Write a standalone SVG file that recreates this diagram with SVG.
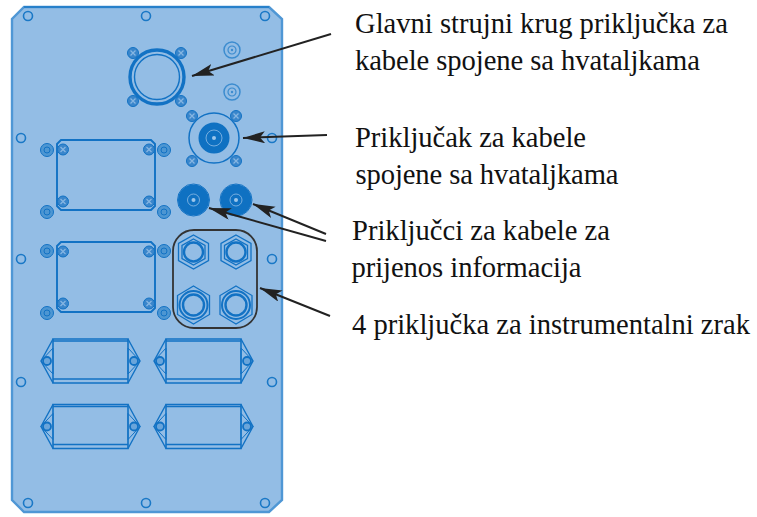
<svg xmlns="http://www.w3.org/2000/svg" width="757" height="517" viewBox="0 0 757 517">
<style>
.t{font-family:"Liberation Serif",serif;font-size:28.6px;fill:#111}
.s{fill:none;stroke:#1272c4;stroke-width:1.3}
.d{fill:#0f71c2}
.a{stroke:#222;stroke-width:2;fill:none}
.h{fill:#222}
</style>
<defs>
<g id="hole"><circle r="4.5" fill="none" stroke="#1a78c6" stroke-width="1.6"/></g>
<g id="scr"><circle r="5.5" fill="#3a86cb" stroke="#1272c4"/><path d="M-2.5-2.5L2.5 2.5M-2.5 2.5L2.5-2.5" stroke="#86b6e2" stroke-width="1.3"/></g>
<g id="wash"><circle r="6.5" fill="#4d96d2" stroke="#1272c4"/><circle r="3" fill="none" stroke="#1272c4"/></g>
<g id="pale"><circle r="8" fill="none" stroke="#3c8ccf" stroke-width="1.5"/><circle r="4" fill="none" stroke="#3c8ccf" stroke-width="1.2"/><circle r="1.2" fill="#3c8ccf"/></g>
<g id="cab"><path class="s" d="M-47-22H28V22H-47Z" style="stroke-width:1.6"/><path class="s" d="M-47-22L-59 0L-47 22M-47-20H28M-47 18H28M28-22L40 0L28 22" style="stroke-width:1.4"/><path class="s" d="M-59 0L-47-13V13ZM40 0L28-13V13Z" style="stroke-width:1"/><circle cx="-53" cy="0" r="4" fill="#6aa5da" stroke="#1272c4" stroke-width="1.8"/><circle cx="34" cy="0" r="4" fill="#6aa5da" stroke="#1272c4" stroke-width="1.8"/></g>
<g id="plate"><path class="s" style="stroke-width:1.9" d="M-45-35H45L49-31V31L45 35H-45L-49 31V-31Z"/><use href="#scr" x="-43" y="-25.500"/><use href="#scr" x="43" y="-25.500"/><use href="#scr" x="-43" y="26.500"/><use href="#scr" x="43" y="26.500"/></g>
<g id="nut1"><path class="s" d="M0-17L15-8.500V8.500L0 17L-15 8.500V-8.500Z"/><path class="s" d="M0-13L11.500-6.500V6.500L0 13L-11.500 6.500V-6.500Z"/><circle r="9.500" fill="none" stroke="#1272c4" stroke-width="2.4"/></g>
<g id="nut2"><path class="s" d="M0-19L16-9.500V9.500L0 19L-16 9.500V-9.500Z"/><circle r="14" fill="none" stroke="#1272c4" stroke-width="2"/><circle r="10.500" fill="none" stroke="#1272c4" stroke-width="2.400"/></g>
<g id="blue"><circle r="15.500" class="d"/><circle r="16" fill="none" stroke="#1272c4" stroke-width="1"/><circle r="6" fill="none" stroke="#8fbde6" stroke-width=".8"/><circle r="2" fill="#9cc6ea"/></g>
<marker id="ah" markerWidth="24" markerHeight="14" refX="22" refY="6" orient="auto" markerUnits="userSpaceOnUse"><path class="h" d="M0 0L22 6L0 12L5 6Z"/></marker>
</defs>

<g id="panel">
<path d="M24 7H269L282 19V500L269 512H24L12 500V19Z" fill="#93bde5" stroke="#4f97d5" stroke-width="2.400"/>
<path d="M24 7H269" stroke="#1a78c6" stroke-width="1.400" fill="none"/>
<g>
<use href="#hole" x="28" y="16"/><use href="#hole" x="146" y="16"/><use href="#hole" x="265" y="16"/>
<use href="#hole" x="21" y="138"/><use href="#hole" x="272" y="138"/>
<use href="#hole" x="21" y="259"/><use href="#hole" x="272" y="259"/>
<use href="#hole" x="21" y="382"/><use href="#hole" x="272" y="382"/>
<use href="#hole" x="28" y="503"/><use href="#hole" x="146" y="503"/><use href="#hole" x="265" y="503"/>
</g>
<use href="#pale" x="232" y="50"/><use href="#pale" x="232" y="92"/>
</g>

<g id="main-connector">
<use href="#scr" x="133" y="53"/><use href="#scr" x="181" y="53"/><use href="#scr" x="133" y="101"/><use href="#scr" x="181" y="101"/>
<circle cx="157" cy="77" r="27" fill="#93bde5" stroke="#1272c4" stroke-width="3.400"/>
<circle cx="157" cy="77" r="22.500" fill="none" stroke="#1272c4" stroke-width="1.400"/>
</g>

<g id="cable-connector">
<use href="#scr" x="192" y="116"/><use href="#scr" x="236" y="116"/><use href="#scr" x="192" y="161"/><use href="#scr" x="236" y="161"/>
<circle cx="214" cy="138" r="25" fill="#93bde5" stroke="#1272c4" stroke-width="1.500"/>
<circle cx="214" cy="138" r="15.500" class="d"/>
<circle cx="214" cy="138" r="8" fill="none" stroke="#8fbde6" stroke-width=".8"/>
<circle cx="214" cy="138" r="2" fill="#9cc6ea"/>
</g>

<g id="info-connectors"><use href="#blue" x="193.500" y="200"/><use href="#blue" x="236" y="200"/></g>

<g id="plate-upper"><use href="#wash" x="47" y="150"/><use href="#wash" x="164" y="150"/><use href="#wash" x="47" y="212"/><use href="#wash" x="164" y="212"/><use href="#plate" x="106" y="175"/></g>
<g id="plate-lower"><use href="#wash" x="47" y="251"/><use href="#wash" x="164" y="251"/><use href="#wash" x="47" y="313"/><use href="#wash" x="164" y="313"/><use href="#plate" x="106" y="277"/></g>

<g id="air-connectors">
<rect x="173" y="230" width="84" height="98" rx="21" fill="none" stroke="#333" stroke-width="1.800"/>
<use href="#nut1" x="193.500" y="252"/><use href="#nut1" x="236" y="252"/>
<use href="#nut2" x="193.500" y="305"/><use href="#nut2" x="236" y="305"/>
</g>

<g id="cabinets"><use href="#cab" x="100" y="361"/><use href="#cab" x="213" y="361"/><use href="#cab" x="100" y="426.500"/><use href="#cab" x="213" y="426.500"/></g>

<g id="connectors">
<path class="a" marker-end="url(#ah)" d="M331 34L192 76"/>
<path class="a" marker-end="url(#ah)" d="M327 135L243 138"/>
<path class="a" marker-end="url(#ah)" d="M326 234L253 204"/>
<path class="a" marker-end="url(#ah)" d="M326 241L209 208"/>
<path class="a" marker-end="url(#ah)" d="M330 316L260 288"/>
</g>

<g id="labels">
<text class="t" x="355" y="32.500" textLength="373">Glavni strujni krug priključka za</text>
<text class="t" x="355" y="69.500" textLength="345">kabele spojene sa hvataljkama</text>
<text class="t" x="355" y="146.500" textLength="231">Priključak za kabele</text>
<text class="t" x="355.500" y="184" textLength="263">spojene sa hvataljkama</text>
<text class="t" x="352" y="240" textLength="258">Priključci za kabele za</text>
<text class="t" x="351.500" y="277" textLength="230">prijenos informacija</text>
<text class="t" x="352" y="334" textLength="398">4 priključka za instrumentalni zrak</text>
</g>
</svg>
